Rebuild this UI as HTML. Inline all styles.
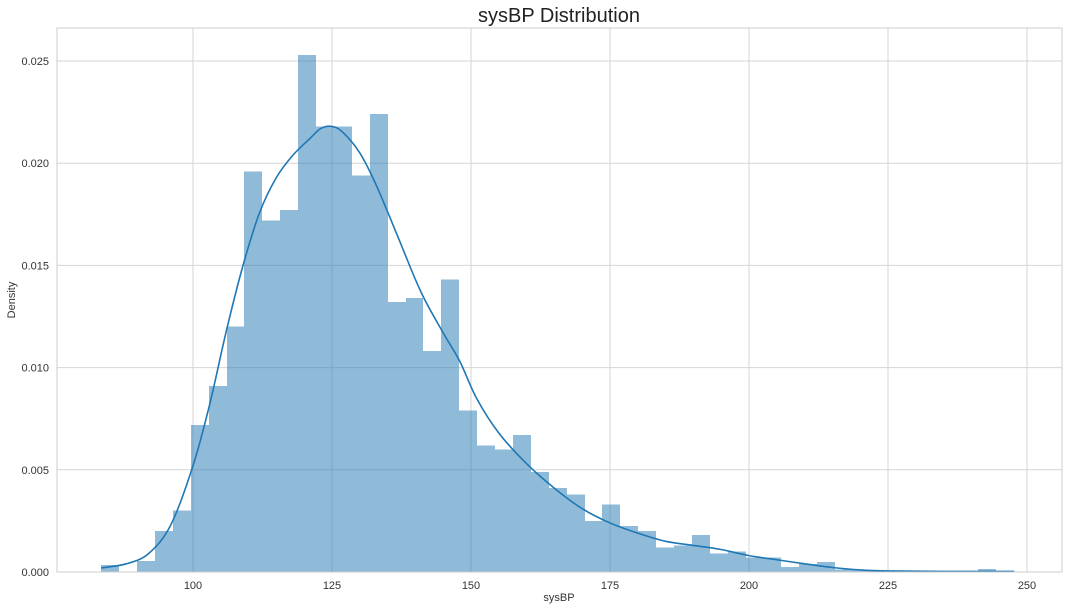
<!DOCTYPE html>
<html><head><meta charset="utf-8"><style>
body{margin:0;background:#fff;font-family:"Liberation Sans",sans-serif;}
svg text{font-family:"Liberation Sans",sans-serif;}
</style></head><body>
<svg id="chart" width="1068" height="610" xmlns="http://www.w3.org/2000/svg">
<rect x="0" y="0" width="1068" height="610" fill="#fff"/>
<text x="559" y="22" font-size="20" text-anchor="middle" fill="#222">sysBP Distribution</text>
<g id="grid"></g><g id="bars" shape-rendering="crispEdges"></g><g id="kde"></g><g id="axes"></g>
<text x="559" y="601" font-size="11" text-anchor="middle" fill="#333">sysBP</text>
<text transform="translate(15,300) rotate(-90)" font-size="11" text-anchor="middle" fill="#333">Density</text>
</svg>
<script>
const binStart = 83.5;
const binEnd = 247.7;
const densities = [0.00035,0,0.00055,0.002,0.003,0.0072,0.0091,0.0120,0.0196,0.0172,0.0177,0.0253,0.0218,0.0218,0.0194,0.0224,0.0132,0.0134,0.0108,0.0143,
0.0079,0.0062,0.0060,0.0067,0.0049,0.0041,0.0038,0.0025,0.0033,0.00225,0.0020,0.0012,0.0013,0.0018,0.0009,0.0010,0.0007,0.0007,0.00025,0.0004,0.0005,0.00012,0.0001,0.00005,0.00005,0.00003,0.00003,0.00003,0.00003,0.00015,0.00005];
const kdeX = [83.5,88,92,96,100,103,106,109,112,115,118,121,123,125,127,130,133,137,141,145,148,151,155,160,165,170,175,180,185,190,195,200,205,210,215,220,225,235,247.7];
const kdeY = [0.0002,0.0004,0.0009,0.0023,0.0052,0.0082,0.0118,0.0150,0.0176,0.0193,0.0204,0.0212,0.0217,0.0218,0.0215,0.0205,0.0189,0.0163,0.0137,0.0117,0.0103,0.0085,0.0068,0.0053,0.0041,0.0031,0.0024,0.0019,0.0015,0.0013,0.0011,0.0008,0.0006,0.0004,0.00022,0.0001,0.00005,0.00003,0.00003];
const xTicks = [100,125,150,175,200,225,250];
const yTicks = [0,0.005,0.010,0.015,0.020,0.025];
const yTickLabels = ["0.000","0.005","0.010","0.015","0.020","0.025"];

const L=57,R=1062,T=28,B=572;
const xs = v => 193 + (v-100)*5.56;
const ys = v => B - v*20440;
const NS="http://www.w3.org/2000/svg";
function mk(tag, parent, attrs){const e=document.createElementNS(NS,tag);for(const k in attrs)e.setAttribute(k,attrs[k]);parent.appendChild(e);return e;}
const grid=document.getElementById('grid'), bars=document.getElementById('bars'), kde=document.getElementById('kde'), axes=document.getElementById('axes');

yTicks.forEach((t,i)=>{
  const y=ys(t);
  const g=mk('line',grid,{x1:L,x2:R,y1:y,y2:y,stroke:'#d6d6d6','stroke-width':1});
  
  
  const tx=mk('text',axes,{x:L-8,y:y+4,'font-size':11,'text-anchor':'end',fill:'#333'});
  tx.textContent=yTickLabels[i];
  
  
});
xTicks.forEach(t=>{
  const x=xs(t);
  const g=mk('line',grid,{x1:x,x2:x,y1:T,y2:B,stroke:'#d6d6d6','stroke-width':1});
  
  
  const tx=mk('text',axes,{x:x,y:B+17,'font-size':11,'text-anchor':'middle',fill:'#333'});
  tx.textContent=t;
  
  
});
const bw=(binEnd-binStart)/densities.length;
densities.forEach((d,i)=>{
  if(d<=0) return;
  const x0=Math.round(xs(binStart+i*bw)), x1=Math.round(xs(binStart+(i+1)*bw));
  const r=mk('rect',bars,{x:x0,y:ys(d),width:x1-x0,height:B-ys(d),fill:'#1f77b4','fill-opacity':0.5});
  
  
});
const pts=kdeX.map((v,i)=>[xs(v),ys(kdeY[i])]);
let d='M'+pts[0][0]+','+pts[0][1];
for(let i=0;i<pts.length-1;i++){
  const p0=pts[Math.max(0,i-1)],p1=pts[i],p2=pts[i+1],p3=pts[Math.min(pts.length-1,i+2)];
  const c1=[p1[0]+(p2[0]-p0[0])/6,p1[1]+(p2[1]-p0[1])/6];
  const c2=[p2[0]-(p3[0]-p1[0])/6,p2[1]-(p3[1]-p1[1])/6];
  d+=` C${c1[0]},${c1[1]} ${c2[0]},${c2[1]} ${p2[0]},${p2[1]}`;
}
const path=mk('path',kde,{d:d,fill:'none',stroke:'#1f77b4','stroke-width':1.6});


const frame=mk('rect',axes,{x:L,y:T,width:R-L,height:B-T,fill:'none',stroke:'#cccccc','stroke-width':1});


</script>
</body></html>
